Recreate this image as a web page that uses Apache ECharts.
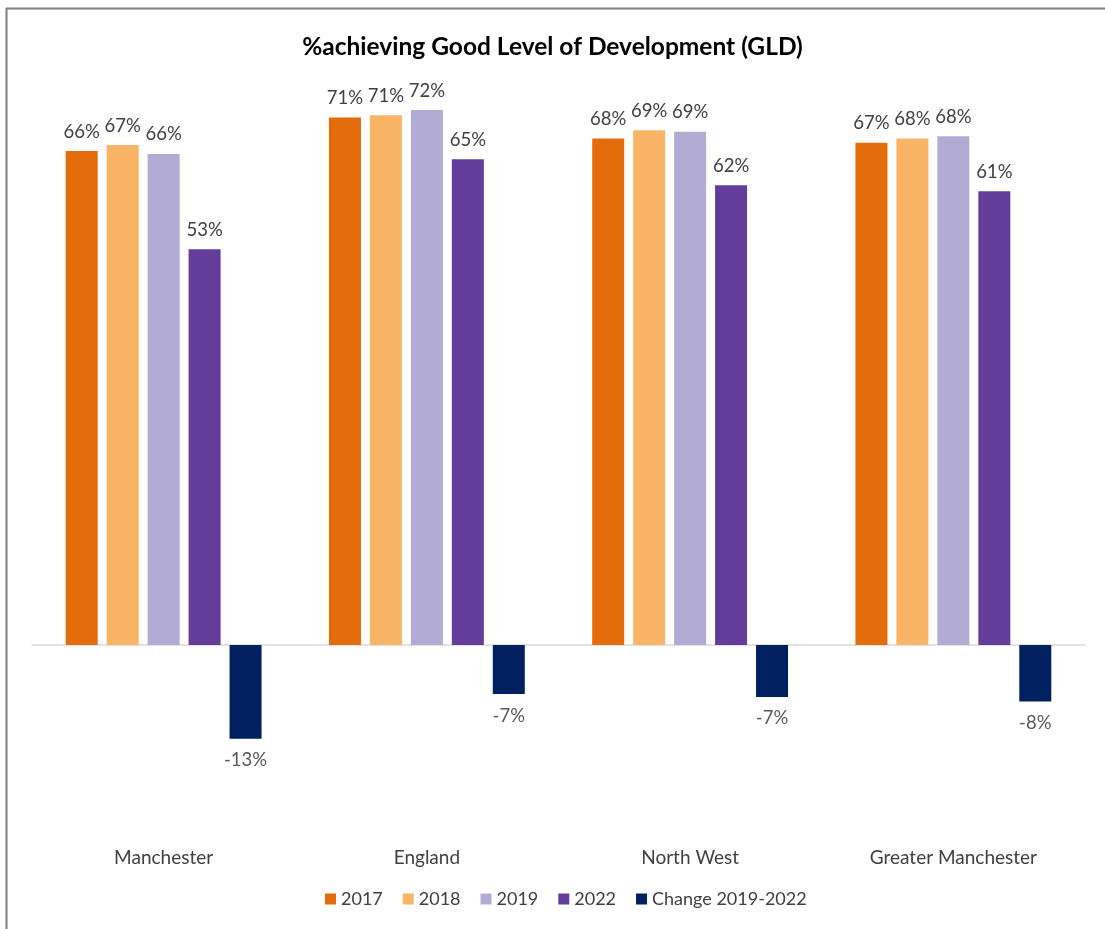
<!DOCTYPE html>
<html>
<head>
<meta charset="utf-8">
<script src="https://cdn.jsdelivr.net/npm/echarts@6/dist/echarts.min.js"></script>
<style>html,body{margin:0;padding:0;background:#fff}#c{width:1105px;height:929px}</style>
</head>
<body>
<div id="c"></div>
<script>
var categories = ['Manchester', 'England', 'North West', 'Greater Manchester'];
var seriesNames = ['2017', '2018', '2019', '2022', 'Change 2019-2022'];
var v2017 = [66.3, 70.8, 68.0, 67.4];
var v2018 = [67.1, 71.1, 69.1, 68.0];
var v2019 = [65.9, 71.8, 68.9, 68.3];
var v2022 = [53.1, 65.2, 61.7, 60.9];
var vChange = [-12.6, -6.6, -7.0, -7.6];
var colors = ['#E46C0A', '#F9B565', '#B2ACD4', '#643C9A', '#002060'];

var allValues = [v2017, v2018, v2019, v2022, vChange];
var font = 'Lato, "Open Sans", sans-serif';

var series = allValues.map(function (vals, i) {
  var neg = i === 4;
  return {
    name: seriesNames[i],
    type: 'bar',
    xAxisIndex: 0,
    data: vals,
    barWidth: 32,
    barGap: '28%',
    itemStyle: { color: colors[i] },
    label: {
      show: true,
      position: neg ? 'bottom' : 'top',
      distance: neg ? 12 : 10,
      color: neg ? '#595959' : '#404040',
      fontSize: 18.5,
      fontFamily: font,
      formatter: function (p) { return p.value.toFixed(0) + '%'; }
    }
  };
});

var chart = echarts.init(document.getElementById('c'));
chart.setOption({
  animation: false,
  backgroundColor: '#fff',
  title: {
    text: '%achieving Good Level of Development (GLD)',
    left: 'center',
    top: 30,
    textStyle: { fontFamily: font, fontWeight: 'bold', fontSize: 24.5, color: '#000' }
  },
  legend: {
    data: seriesNames,
    bottom: 16,
    left: 320,
    itemWidth: 11,
    itemHeight: 11,
    itemGap: 20,
    icon: 'rect',
    textStyle: { fontFamily: font, fontSize: 18, color: '#404040' }
  },
  grid: { left: 32, right: 20, top: 49, bottom: 83 },
  xAxis: [
    {
      type: 'category',
      data: categories,
      axisLine: { onZero: true, lineStyle: { color: '#D9D9D9', width: 1.5 } },
      axisTick: { show: false },
      axisLabel: { show: false }
    },
    {
      type: 'category',
      data: categories,
      position: 'bottom',
      axisLine: { show: false, onZero: false },
      axisTick: { show: false },
      axisLabel: { margin: 2, fontFamily: font, fontSize: 19, color: '#404040' }
    }
  ],
  yAxis: {
    type: 'value',
    min: -27,
    max: 80,
    show: false,
    splitLine: { show: false }
  },
  graphic: [
    { type: 'line', shape: { x1: 6, y1: 8.5, x2: 1105, y2: 8.5 }, style: { stroke: '#7F7F7F', lineWidth: 2 } },
    { type: 'line', shape: { x1: 6.5, y1: 8, x2: 6.5, y2: 929 }, style: { stroke: '#7F7F7F', lineWidth: 2 } }
  ],
  series: series
});
</script>
</body>
</html>
